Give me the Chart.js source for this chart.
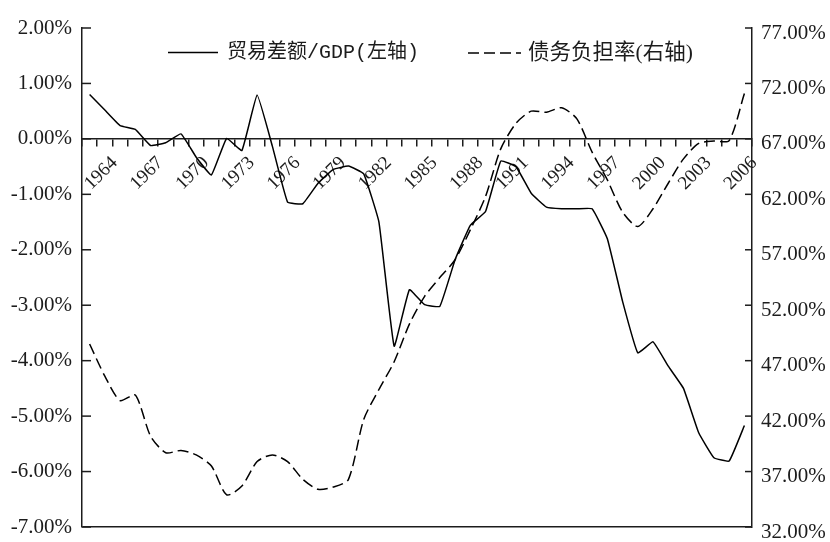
<!DOCTYPE html>
<html><head><meta charset="utf-8">
<script src="https://cdn.jsdelivr.net/npm/chart.js@4.4.1/dist/chart.umd.min.js"></script>
<style>html,body{margin:0;padding:0;background:#fff;}#wrap{width:830px;height:542px;}</style>
</head><body><div id="wrap"><canvas id="c" width="830" height="542"></canvas></div>
<script>
const years = ['1964','1965','1966','1967','1968','1969','1970','1971','1972','1973','1974','1975','1976','1977','1978','1979','1980','1981','1982','1983','1984','1985','1986','1987','1988','1989','1990','1991','1992','1993','1994','1995','1996','1997','1998','1999','2000','2001','2002','2003','2004','2005','2006','2007'];
const xTickLabels = ['1964','1967','1970','1973','1976','1979','1982','1985','1988','1991','1994','1997','2000','2003','2006'];
const tradeBalance = [0.80,0.52,0.24,0.17,-0.12,-0.07,0.09,-0.33,-0.65,0.01,-0.21,0.79,-0.13,-1.14,-1.17,-0.80,-0.55,-0.49,-0.63,-1.50,-3.74,-2.72,-2.99,-3.02,-2.18,-1.56,-1.31,-0.40,-0.50,-0.98,-1.23,-1.26,-1.26,-1.26,-1.80,-2.93,-3.86,-3.66,-4.10,-4.50,-5.30,-5.75,-5.81,-5.17];
const debtBurden = [48.5,45.6,43.4,43.9,40.2,38.7,38.9,38.5,37.5,34.9,35.7,37.9,38.5,37.9,36.3,35.4,35.6,36.3,41.7,44.4,46.9,50.3,52.8,54.5,56.1,58.8,61.8,66.1,68.4,69.5,69.4,69.8,68.8,65.8,63.3,60.4,59.1,60.7,63.0,65.2,66.6,66.8,66.85,71.1];
const seriesNames = ['贸易差额/GDP(左轴)','债务负担率(右轴)'];
const leftTicks = {min:-7, max:2, step:1};
const rightTicks = {min:32, max:77, step:5};

const INK = '#1c1c1c';
const NUM_FONT = 'Liberation Serif';

const bgPlugin = {
  id:'bg',
  beforeDraw(chart){ const c=chart.ctx; c.save(); c.fillStyle='#fff'; c.fillRect(0,0,chart.width,chart.height); c.restore(); }
};

const innerTicks = {
  id:'innerTicks',
  afterDraw(chart){
    const c = chart.ctx, a = chart.chartArea;
    c.save(); c.strokeStyle = INK; c.lineWidth = 1.5;
    const yl = chart.scales.y, yr = chart.scales.y1;
    yl.ticks.forEach((t,i)=>{ const p = yl.getPixelForTick(i); c.beginPath(); c.moveTo(a.left, p); c.lineTo(a.left+9, p); c.stroke(); });
    yr.ticks.forEach((t,i)=>{ const p = yr.getPixelForTick(i); c.beginPath(); c.moveTo(a.right, p); c.lineTo(a.right-7, p); c.stroke(); });
    c.restore();
  }
};

const innerLegend = {
  id:'innerLegend',
  afterDraw(chart){
    const c = chart.ctx;
    const items = [
      {x0:168, x1:218, tx:227, y:52.5, font:"20px 'Liberation Mono','Noto Sans CJK SC'"},
      {x0:468, x1:521, tx:528, y:53, font:"21.5px 'Liberation Serif','Noto Sans CJK SC'"}
    ];
    chart.data.datasets.forEach((ds,i)=>{
      const it = items[i];
      c.save();
      c.strokeStyle = ds.borderColor; c.lineWidth = ds.borderWidth;
      c.setLineDash(ds.borderDash || []);
      c.beginPath(); c.moveTo(it.x0, it.y); c.lineTo(it.x1, it.y); c.stroke();
      c.setLineDash([]);
      c.fillStyle = INK; c.font = it.font; c.textBaseline = 'middle'; c.textAlign = 'left';
      c.fillText(ds.label, it.tx, it.y);
      c.restore();
    });
  }
};

new Chart(document.getElementById('c'), {
  type:'line',
  data:{
    labels: years,
    datasets:[
      {label:seriesNames[0], data:tradeBalance, yAxisID:'y', borderColor:'#000', borderWidth:1.5, pointRadius:0, tension:0.1, fill:false},
      {label:seriesNames[1], data:debtBurden, yAxisID:'y1', borderColor:'#000', borderWidth:1.5, borderDash:[11,5], pointRadius:0, tension:0.25, fill:false}
    ]
  },
  options:{
    responsive:false, animation:false, devicePixelRatio:1,
    layout:{padding:{top:28, bottom:15, left:0, right:0}},
    plugins:{legend:{display:false}, tooltip:{enabled:false}},
    scales:{
      x:{
        type:'category', position:{y:0}, offset:true,
        grid:{display:true, drawOnChartArea:false, drawTicks:true, tickLength:7, offset:true, color:INK, lineWidth:1.5},
        border:{display:true, color:INK, width:1.5},
        ticks:{autoSkip:false, maxRotation:45, minRotation:45, padding:6, labelOffset:25, color:INK,
          font:{family:NUM_FONT, size:19},
          callback(v){ const l = this.getLabelForValue(v); return xTickLabels.includes(l) ? l : ''; }}
      },
      y:{
        position:'left', min:leftTicks.min, max:leftTicks.max,
        ticks:{stepSize:leftTicks.step, padding:10, color:INK, font:{family:NUM_FONT, size:21, lineHeight:0.4}, callback:v=>Number(v).toFixed(2)+'%'},
        grid:{drawTicks:false, lineWidth:1.5, color:c=> (c.tick && c.tick.value===leftTicks.min) ? INK : 'rgba(0,0,0,0)'},
        border:{display:true, color:INK, width:1.5},
        afterFit(s){ s.width = 82; }
      },
      y1:{
        position:'right', min:rightTicks.min, max:rightTicks.max,
        ticks:{stepSize:rightTicks.step, padding:9, labelOffset:5, color:INK, font:{family:NUM_FONT, size:21, lineHeight:0.4}, callback:v=>Number(v).toFixed(2)+'%'},
        grid:{display:false, drawTicks:false, drawOnChartArea:false},
        border:{display:true, color:INK, width:1.5},
        afterFit(s){ s.width = 78; }
      }
    }
  },
  plugins:[bgPlugin, innerTicks, innerLegend]
});
</script></body></html>
